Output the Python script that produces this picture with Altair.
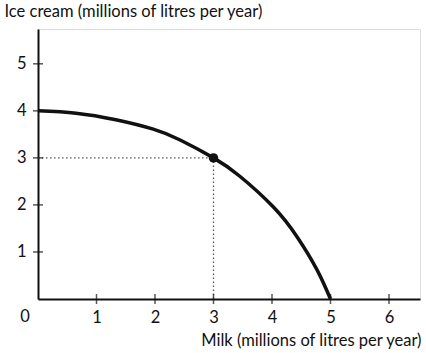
import altair as alt
import pandas as pd

# Curve
milk = [0, 0.65, 1.33, 1.97, 2.43, 3.0, 3.45, 4.02, 4.43, 4.77, 5.0]
ice_cream = [4.0, 3.95, 3.81, 3.61, 3.38, 3.0, 2.61, 1.96, 1.32, 0.62, 0.0]

point_x = [3]
point_y = [3]

x_ticks = [1, 2, 3, 4, 5, 6]
y_ticks = [1, 2, 3, 4, 5]

X_MAX = 6.53
Y_MAX = 5.74
FONT = "Lato"
INK = "#111111"

curve_df = pd.DataFrame({"milk": milk, "ice": ice_cream})
pt_df = pd.DataFrame({"milk": point_x, "ice": point_y})
guide_h = pd.DataFrame({"milk": [0, point_x[0]], "ice": [point_y[0], point_y[0]]})
guide_v = pd.DataFrame({"milk": [point_x[0], point_x[0]], "ice": [0, point_y[0]]})
xt_df = pd.DataFrame({"milk": x_ticks, "ice": [0] * len(x_ticks)})
yt_df = pd.DataFrame({"milk": [0] * len(y_ticks), "ice": y_ticks})
origin_df = pd.DataFrame({"milk": [0], "ice": [0], "lab": ["0"]})

xs = alt.Scale(domain=[0, X_MAX], nice=False, zero=False)
ys = alt.Scale(domain=[0, Y_MAX], nice=False, zero=False)

x_enc = alt.X("milk:Q", scale=xs, axis=alt.Axis(
    values=x_ticks, format="d", ticks=False, grid=False, labelPadding=10,
    labelFontSize=16.5, labelFont=FONT, labelColor=INK,
    domainColor=INK, domainWidth=2,
    title="Milk (millions of litres per year)", titleFont=FONT,
    titleFontSize=16.5, titleFontWeight="normal", titleColor=INK,
    titleAlign="right", titleAnchor="end", titleX=383, titleY=46,
    titleBaseline="alphabetic"))
y_enc = alt.Y("ice:Q", scale=ys, axis=alt.Axis(
    values=y_ticks, format="d", ticks=False, grid=False, labelPadding=12,
    labelFontSize=16.5, labelFont=FONT, labelColor=INK,
    domainColor=INK, domainWidth=2,
    title="Ice cream (millions of litres per year)", titleFont=FONT,
    titleFontSize=16.5, titleFontWeight="normal", titleColor=INK,
    titleAngle=0, titleAlign="left", titleX=-34, titleY=-13,
    titleBaseline="alphabetic"))

xp = alt.X("milk:Q", scale=xs)
yp = alt.Y("ice:Q", scale=ys)

dots_h = alt.Chart(guide_h).mark_line(
    color="#555555", strokeWidth=1.3, strokeDash=[1.5, 2.5]
).encode(x=x_enc, y=y_enc)
dots_v = alt.Chart(guide_v).mark_line(
    color="#555555", strokeWidth=1.3, strokeDash=[1.5, 2.5]
).encode(x=xp, y=yp)

curve = alt.Chart(curve_df).mark_line(
    color=INK, strokeWidth=3.5, interpolate="natural"
).encode(x=xp, y=yp, order="milk:Q")

pt = alt.Chart(pt_df).mark_point(
    filled=True, color=INK, size=90, opacity=1
).encode(x=xp, y=yp)

xt = alt.Chart(xt_df).mark_tick(
    color=INK, orient="vertical", size=10, thickness=1.5
).encode(x=xp, y=yp)
yt = alt.Chart(yt_df).mark_tick(
    color=INK, orient="horizontal", size=10, thickness=1.5
).encode(x=xp, y=yp)

origin = alt.Chart(origin_df).mark_text(
    font=FONT, fontSize=16.5, color=INK, dx=-13, dy=18
).encode(x=xp, y=yp, text="lab:N")

chart = alt.layer(dots_h, dots_v, curve, pt, xt, yt, origin).properties(
    width=382, height=270,
    autosize=alt.AutoSizeParams(type="none"),
    padding={"left": 38, "top": 29, "right": 6, "bottom": 54},
).configure_view(stroke=None).configure(background="white")

chart.save("out.html", embed_options={"renderer": "svg", "actions": False})
